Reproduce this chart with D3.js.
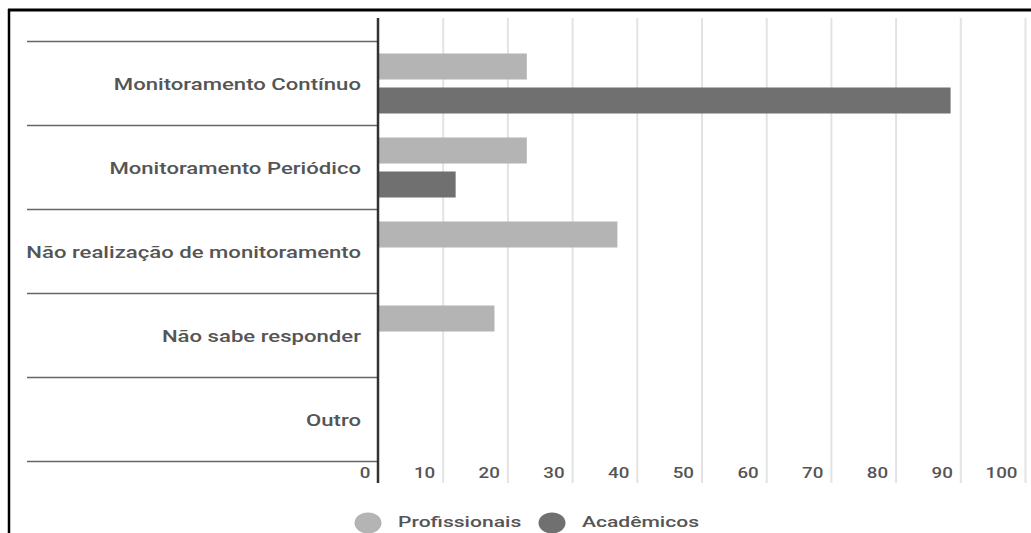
<!DOCTYPE html>
<html><head><meta charset="utf-8">
<script src="https://cdn.jsdelivr.net/npm/d3@7"></script>
<style>body{margin:0;background:#fff}svg{display:block}text{font-family:Roboto,"Noto Sans",sans-serif;font-weight:500}</style>
</head><body>
<svg id="c" width="1031" height="533"></svg>
<script>
const categories = ["Monitoramento Contínuo","Monitoramento Periódico","Não realização de monitoramento","Não sabe responder","Outro"];
const seriesNames = ["Profissionais","Acadêmicos"];
const profissionais = [23, 23, 37, 18, 0];
const academicos = [88.5, 12, 0, 0, 0];
const xTicks = [0,10,20,30,40,50,60,70,80,90,100];
const colors = ["#b4b4b4","#707070"];

(function(){
const SX = 1.342;
const svg = d3.select("#c");
const x = d3.scaleLinear().domain([0,100]).range([378,1025]);
const y = d3.scaleBand().domain(categories).range([41.5,461.5]);
const y1 = d3.scaleBand().domain(seriesNames).range([0,y.bandwidth()]).paddingInner(0.235).paddingOuter(0.353);
const yTop = 18, yBot = 483;

// frame
svg.append("line").attr("x1",8).attr("x2",1031).attr("y1",10).attr("y2",10).attr("stroke","#000").attr("stroke-width",3);
svg.append("line").attr("x1",9).attr("x2",9).attr("y1",9).attr("y2",533).attr("stroke","#000").attr("stroke-width",2.5);

// gridlines via axis
const grid = svg.append("g").attr("transform",`translate(0,${yBot})`)
  .call(d3.axisBottom(x).tickValues(xTicks.slice(1)).tickSize(-(yBot-yTop)).tickFormat(""));
grid.select(".domain").remove();
grid.selectAll("line").attr("stroke","#e3e3e3").attr("stroke-width",2);

// category separators
svg.append("g").selectAll("line").data(categories.concat(["_end"])).join("line")
  .attr("x1",27).attr("x2",x(0))
  .attr("y1",(d,i)=> i<categories.length ? y(d) : y.range()[1])
  .attr("y2",(d,i)=> i<categories.length ? y(d) : y.range()[1])
  .attr("stroke","#666").attr("stroke-width",1.6);

// bars
const data = [profissionais, academicos];
seriesNames.forEach((s,si)=>{
  svg.append("g").selectAll("rect").data(categories).join("rect")
    .attr("x",x(0)+1)
    .attr("y",d=>y(d)+y1(s))
    .attr("height",y1.bandwidth())
    .attr("width",(d,i)=>Math.max(0,x(data[si][i])-x(0)-1))
    .attr("fill",colors[si])
    .attr("display",(d,i)=>data[si][i]>0?null:"none");
});

// zero axis line
svg.append("line").attr("x1",x(0)).attr("x2",x(0)).attr("y1",yTop).attr("y2",yBot).attr("stroke","#333").attr("stroke-width",2.5);

// category labels
svg.append("g").selectAll("text").data(categories).join("text")
  .attr("transform",d=>`translate(361,${y(d)+y.bandwidth()/2+6}) scale(${SX},1)`)
  .attr("text-anchor","end").attr("font-size",16.5).attr("fill","#555").text(d=>d);

// tick labels via axis
const ax = svg.append("g").attr("transform",`translate(0,${yBot-10})`)
  .call(d3.axisBottom(x).tickValues(xTicks).tickSize(0).tickFormat(d3.format("d")));
ax.select(".domain").remove();
ax.selectAll("text").attr("text-anchor","end").attr("y",0).attr("dy",0)
  .attr("transform",`translate(-8,5) scale(1.25,1)`)
  .attr("font-size",15).attr("font-family","Roboto").attr("font-weight",500).attr("fill","#555");

// legend
const lg = [{n:seriesNames[0],cx:368,tx:398},{n:seriesNames[1],cx:552,tx:582}];
lg.forEach((l,i)=>{
  svg.append("ellipse").attr("cx",l.cx).attr("cy",523).attr("rx",13.5).attr("ry",10.5).attr("fill",colors[i]);
  svg.append("text").attr("transform",`translate(${l.tx},527) scale(1.36,1)`)
    .attr("font-size",15.5).attr("fill","#555").text(l.n);
});
})();
</script>
</body></html>
